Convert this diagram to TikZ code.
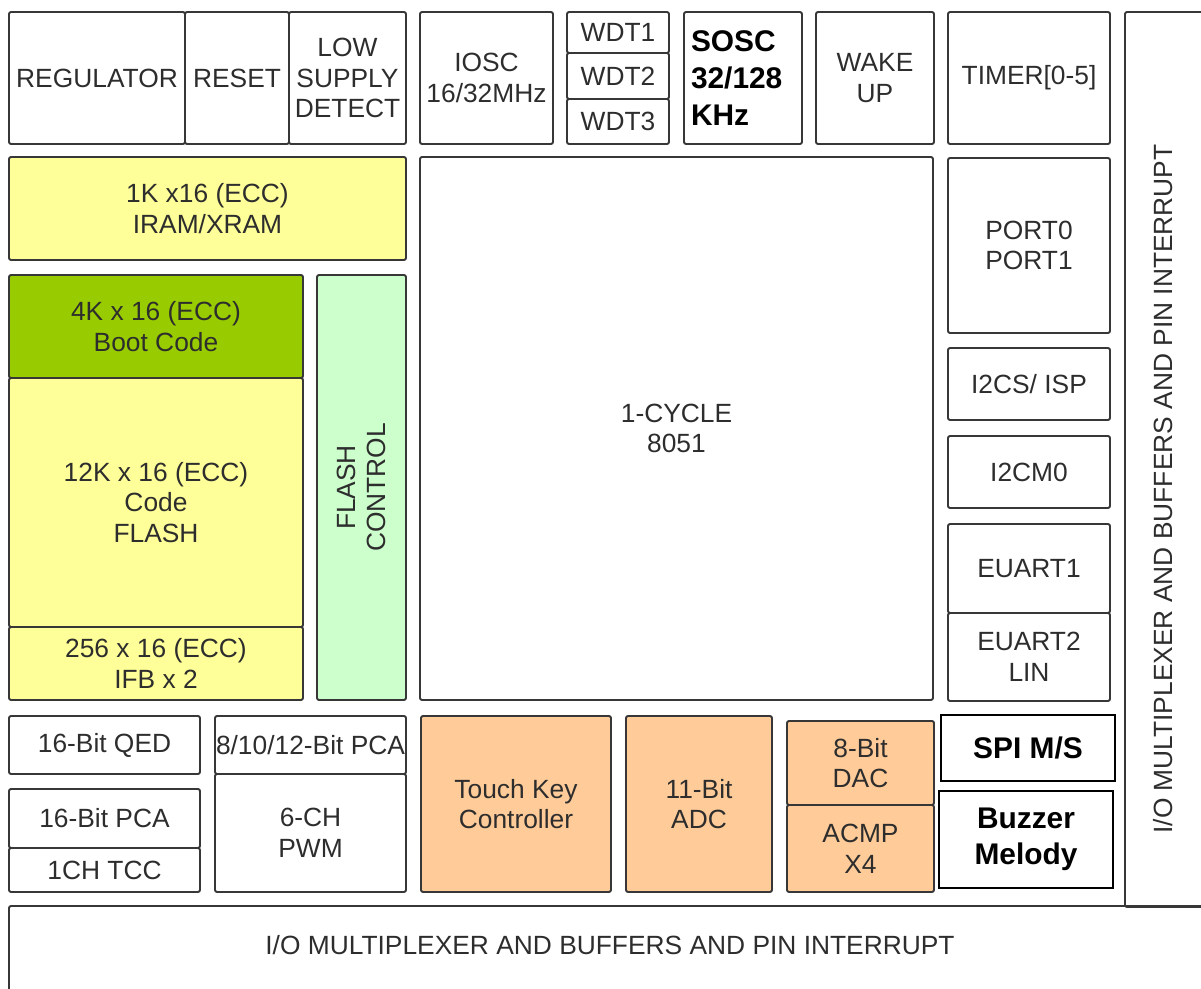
\documentclass[tikz,border=0pt]{standalone}
\usepackage{fontspec}
\setmainfont{Liberation Sans}
\usepackage{tikz}

\definecolor{ramyel}{RGB}{255,255,153}
\definecolor{bootgrn}{RGB}{153,204,0}
\definecolor{ctlgrn}{RGB}{204,255,204}
\definecolor{anaorg}{RGB}{255,204,153}
\definecolor{edge}{RGB}{55,55,55}
\definecolor{txt}{RGB}{45,45,45}

\tikzset{
	blk/.style={draw=edge, line width=1.1pt, rounded corners=1.2pt, inner sep=0pt, align=center,
		text=txt, font=\fontsize{15}{17.5}\selectfont},
	bld/.style={draw=black, line width=1.4pt, inner sep=0pt, align=center,
		font=\bfseries\fontsize{17}{20.5}\selectfont},
	sz/.style 2 args={minimum width=#1*0.02cm, minimum height=#2*0.02cm}
}

\begin{document}
\begin{tikzpicture}[x=0.02cm, y=-0.02cm]
	\useasboundingbox (0,0) rectangle (1201,989);
	\node (reg) at (97,78) [blk, sz={176}{132}] {REGULATOR};
	\node (rst) at (237,78) [blk, sz={104}{132}] {RESET};
	\node (lsd) at (347.5,78) [blk, sz={117}{132}] {LOW\\SUPPLY\\DETECT};
	\node (iosc) at (486.5,78) [blk, sz={133}{132}] {IOSC\\16/32MHz};
		\node (wdt1) at (618,32.5) [blk, sz={102}{41}] {WDT1};
		\node (wdt2) at (618,76) [blk, sz={102}{46}] {WDT2};
		\node (wdt3) at (618,121.5) [blk, sz={102}{45}] {WDT3};
	\node (sosc) at (743,78) [blk, sz={118}{132}, text=black, align=left, text width=104*0.02cm,
		font=\bfseries\fontsize{17}{21}\selectfont] {SOSC\\32/128\\KHz};
	\node (wake) at (875,78) [blk, sz={118}{132}] {WAKE\\UP};
	\node (tmr) at (1029,78) [blk, sz={162}{132}] {TIMER[0-5]};
	\node (iov) at (1175,459.5) [blk, sz={100}{895}] {};
	\node (iovt) at (1163,489) [rotate=90, text=txt, font=\fontsize{15}{17.5}\selectfont] {I/O MULTIPLEXER AND BUFFERS AND PIN INTERRUPT};
	\node (ioh) at (617,958) [blk, sz={1216}{104}] {};
	\node (ioht) at (610,945) [text=txt, font=\fontsize{15}{17.5}\selectfont] {I/O MULTIPLEXER AND BUFFERS AND PIN INTERRUPT};

	\node[fill=ramyel] (iram) at (207.5,208.5) [blk, sz={397}{103}] {1K x16 (ECC)\\IRAM/XRAM};
	\node[fill=bootgrn] (boot) at (156,326.5) [blk, sz={294}{103}] {4K x 16 (ECC)\\Boot Code};
	\node[fill=ramyel] (flash) at (156,502.5) [blk, sz={294}{249}] {12K x 16 (ECC)\\Code\\FLASH};
	\node[fill=ramyel] (ifb) at (156,663.5) [blk, sz={294}{73}] {256 x 16 (ECC)\\IFB x 2};
	\node[fill=ctlgrn] (fctl) at (361.5,487.5) [blk, sz={89}{425}] {};
	\node (fctlt) at (fctl.center) [rotate=90, align=center, text=txt, font=\fontsize{15}{17.5}\selectfont] {FLASH\\CONTROL};
	\node (cpu) at (676.5,428.5) [blk, sz={513}{543}] {1-CYCLE\\8051};
		\node (port) at (1029,245.5) [blk, sz={162}{175}] {PORT0\\PORT1};
		\node (i2cs) at (1029,384) [blk, sz={162}{72}] {I2CS/ ISP};
		\node (i2cm) at (1029,472) [blk, sz={162}{72}] {I2CM0};
		\node (ua1) at (1029,568.5) [blk, sz={162}{89}] {EUART1};
		\node (ua2) at (1029,657) [blk, sz={162}{88}] {EUART2\\LIN};

	\node (qed) at (104.5,745) [blk, sz={191}{58}] {16-Bit QED};
	\node (pca16) at (104.5,818.5) [blk, sz={191}{59}] {16-Bit PCA};
	\node (tcc) at (104.5,870) [blk, sz={191}{44}] {1CH TCC};
	\node (pca) at (310.5,745) [blk, sz={191}{58}] {8/10/12-Bit PCA};
	\node (pwm) at (310.5,833) [blk, sz={191}{118}] {6-CH\\PWM};
	\node[fill=anaorg] (tkey) at (516,804) [blk, sz={190}{176}] {Touch Key\\Controller};
	\node[fill=anaorg] (adc) at (699,804) [blk, sz={146}{176}] {11-Bit\\ADC};
	\node[fill=anaorg] (dac) at (860.5,763) [blk, sz={147}{84}] {8-Bit\\DAC};
	\node[fill=anaorg] (acmp) at (860.5,848.5) [blk, sz={147}{87}] {ACMP\\X4};
	\node (spi) at (1028,748) [bld, sz={174}{66}] {SPI M/S};
	\node (buzz) at (1026,839.5) [bld, sz={174}{97}] {Buzzer\\Melody};
\end{tikzpicture}
\end{document}
